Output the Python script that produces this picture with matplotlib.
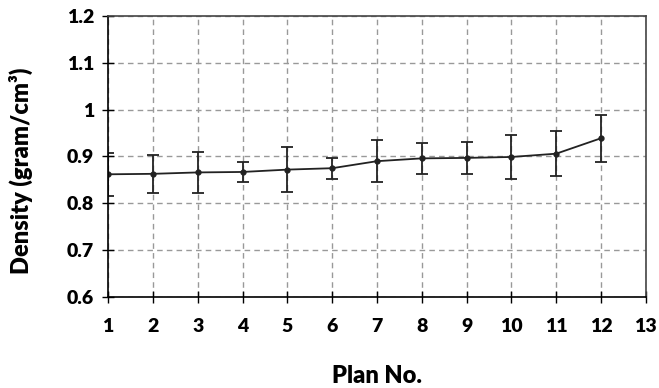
import matplotlib.pyplot as plt
import numpy as np

# data
plan_no = [1, 2, 3, 4, 5, 6, 7, 8, 9, 10, 11, 12]
density = [0.862, 0.863, 0.866, 0.867, 0.872, 0.875, 0.890, 0.896, 0.897, 0.899, 0.906, 0.939]
err = [0.046, 0.041, 0.043, 0.022, 0.048, 0.022, 0.045, 0.033, 0.034, 0.047, 0.048, 0.050]

x_ticks = list(range(1, 14))
y_ticks = [0.6, 0.7, 0.8, 0.9, 1.0, 1.1, 1.2]
y_labels = ["0.6", "0.7", "0.8", "0.9", "1", "1.1", "1.2"]

plt.rcParams['font.family'] = ['Lato', 'DejaVu Sans']

fig = plt.figure(figsize=(6.59, 3.88), dpi=100)
ax = fig.add_axes([0.164, 0.2345, 0.816, 0.7243])

ax.errorbar(plan_no, density, yerr=err, color='#222222', lw=1.3,
            marker='o', ms=3.5, capsize=4, elinewidth=1.3, capthick=1.3)

ax.set_xlim(1, 13)
ax.set_ylim(0.6, 1.2)
ax.set_xticks(x_ticks)
ax.set_yticks(y_ticks)
ax.set_yticklabels(y_labels)
ax.grid(True, ls=(0, (4, 3)), color='#999999', lw=1)
ax.set_axisbelow(True)

ax.tick_params(direction='inout', length=8, width=1, labelsize=14)
ax.tick_params(axis='x', pad=11)
ax.tick_params(axis='y', pad=6)
for lab in ax.get_xticklabels() + ax.get_yticklabels():
    lab.set_fontweight('heavy')

ax.spines['left'].set_color('black')
ax.spines['bottom'].set_color('black')
ax.spines['top'].set_color('#444444')
ax.spines['right'].set_color('#444444')
for s in ax.spines.values():
    s.set_linewidth(1.2)

ax.set_xlabel("Plan No.", fontsize=17, fontweight='heavy', labelpad=22)
ax.set_ylabel("Density (gram/cm\u00b3)", fontsize=17, fontweight='heavy')
ax.yaxis.set_label_coords(-0.14, 0.45)

plt.savefig("out.png", dpi=100)
